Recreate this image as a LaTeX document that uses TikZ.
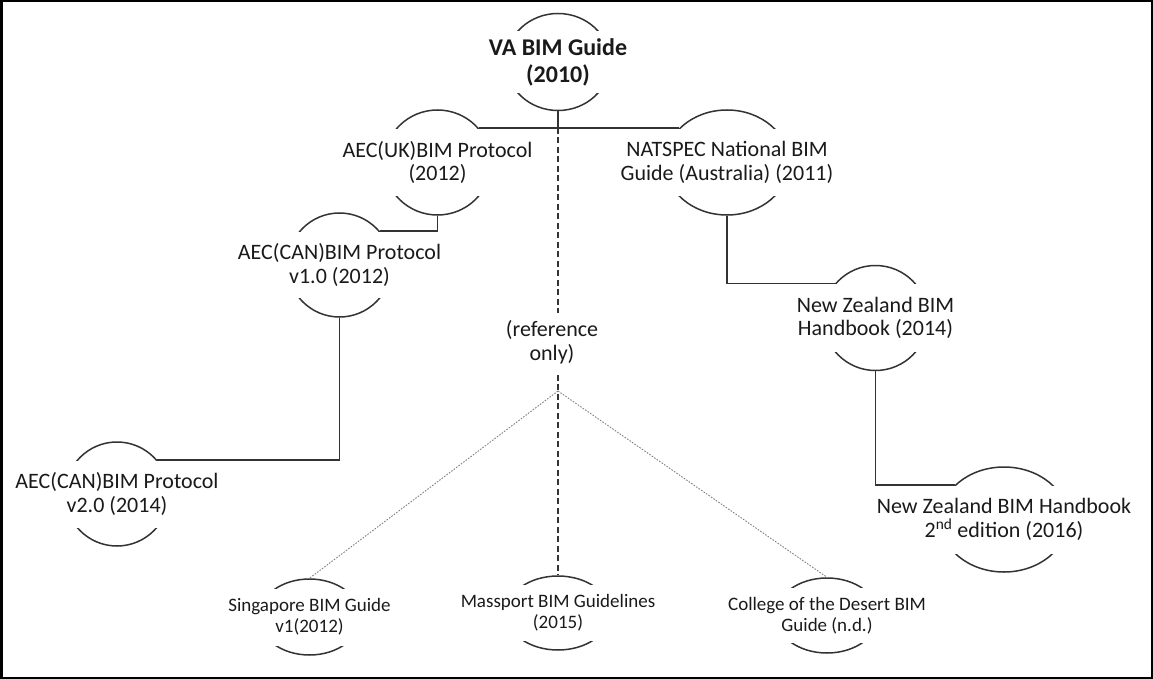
\documentclass[tikz,border=0pt]{standalone}
\usepackage{fontspec}
\setmainfont{Carlito}
\usetikzlibrary{shapes.geometric}
\definecolor{ln}{HTML}{333333}
\definecolor{tx}{HTML}{1A1A1A}
\tikzset{
 ring/.style={ellipse, draw=ln, line width=1.5pt, inner sep=0pt},
 band/.style={fill=white, text=tx, align=center, inner sep=0pt},
 big/.style={font=\fontsize{22}{23.5}\selectfont},
 small/.style={font=\fontsize{19}{21}\selectfont},
 title/.style={font=\fontsize{24}{27}\selectfont\bfseries},
 conn/.style={draw=ln, line width=1.4pt},
 refline/.style={draw=ln, line width=1.3pt, dash pattern=on 6pt off 3.5pt},
 dotline/.style={draw=gray, line width=0.9pt, dash pattern=on 1.6pt off 1.4pt},
}
\begin{document}
\begin{tikzpicture}[x=1pt,y=-1pt]
\useasboundingbox (0,0) rectangle (1153,679);
\draw[line width=2.5pt] (1.25,1.25) rectangle (1151.75,677.75);

% rings
\node[ring, minimum width=104pt, minimum height=97pt] (va) at (558,62) {};
\node[ring, minimum width=107pt, minimum height=105pt] (uk) at (437.5,162.5) {};
\node[ring, minimum width=104pt, minimum height=104pt] (can1) at (339.5,265) {};
\node[ring, minimum width=104pt, minimum height=104pt] (can2) at (117,494) {};
\node[ring, minimum width=124pt, minimum height=105pt] (nat) at (727,162.5) {};
\node[ring, minimum width=105pt, minimum height=105pt] (nz14) at (875.5,318) {};
\node[ring, minimum width=128pt, minimum height=105pt] (nz16) at (1004,519.5) {};
\node[ring, minimum width=102pt, minimum height=76pt] (sg) at (309.5,617) {};
\node[ring, minimum width=104pt, minimum height=74pt] (ms) at (558,613) {};
\node[ring, minimum width=103pt, minimum height=75pt] (cd) at (827,615.5) {};

% texts (white bands hide the sides of the rings)
\node[band, title, minimum width=110pt, minimum height=62pt] (vat) at (va) {VA BIM Guide\\(2010)};
\node[band, big, minimum width=113pt, minimum height=67.6pt] (ukt) at (uk) {AEC(UK)BIM Protocol\\(2012)};
\node[band, big, minimum width=110pt, minimum height=66pt] (can1t) at (can1) {AEC(CAN)BIM Protocol\\v1.0 (2012)};
\node[band, big, minimum width=110pt, minimum height=67pt] (can2t) at (can2) {AEC(CAN)BIM Protocol\\v2.0 (2014)};
\node[band, big, minimum width=130pt, minimum height=67.6pt] (natt) at (nat) {NATSPEC National BIM\\Guide (Australia) (2011)};
\node[band, big, minimum width=111pt, minimum height=68pt] (nz14t) at (nz14) {New Zealand BIM\\Handbook (2014)};
\node[band, big, minimum width=134pt, minimum height=68pt] (nz16t) at (nz16) {New Zealand BIM Handbook\\2\textsuperscript{nd} edition (2016)};
\node[band, small, minimum width=108pt, minimum height=57pt] (sgt) at (sg) {Singapore BIM Guide\\v1(2012)};
\node[band, small, minimum width=110pt, minimum height=56pt] (mst) at (ms) {Massport BIM Guidelines\\(2015)};
\node[band, small, minimum width=109pt, minimum height=55pt] (cdt) at (cd) {College of the Desert BIM\\Guide (n.d.)};

% connectors
\coordinate (jn) at (va.south |- uk.40);
\draw[conn] (va.south) -- (jn);
\draw[conn] (uk.40) -- (uk.40 -| nat.145);
\draw[conn] (uk.south) |- (can1.40);
\draw[conn] (can1.south) |- (can2.40);
\draw[conn] (nat.south) |- (nz14.140);
\draw[conn] (nz14.south) |- (nz16.145);
\draw[refline] (jn) -- (ms.north);
\coordinate (fork) at (558,391);
\draw[dotline] (fork) -- (sg.north);
\draw[dotline] (fork) -- (cd.north);

\node[band, big, minimum width=128pt, minimum height=58pt] (ref) at (552,342) {(reference\\only)};
\end{tikzpicture}
\end{document}
